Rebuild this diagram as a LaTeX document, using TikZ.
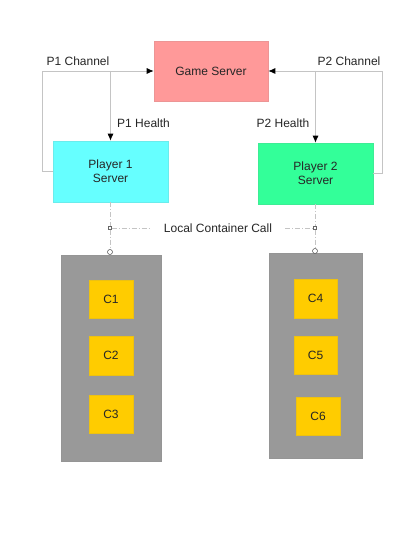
\documentclass[tikz,border=0pt]{standalone}
\usepackage{fontspec}
\setmainfont{Liberation Sans}
\usetikzlibrary{arrows.meta}
\definecolor{gameRed}{HTML}{FF9999}
\definecolor{pcyan}{HTML}{66FFFF}
\definecolor{pgreen}{HTML}{33FF99}
\definecolor{cgray}{HTML}{999999}
\definecolor{cyellow}{HTML}{FFCC00}
\definecolor{linegray}{HTML}{C4C4C4}
\begin{document}
\begin{tikzpicture}[x=1pt,y=-1pt,
  every node/.style={font=\fontsize{12}{14}\selectfont, text=black!85},
  box/.style={rectangle, draw=#1!85!gray, fill=#1, line width=0.6pt, align=center, inner sep=0pt},
  conn/.style={draw=linegray, line width=0.8pt, -{Latex[black,length=7pt,width=6pt]}},
  plain/.style={draw=linegray, line width=0.8pt},
  dashdot/.style={draw=linegray, line width=0.7pt, dash pattern=on 5pt off 2pt on 1pt off 2pt},
  lbl/.style={inner sep=1pt},
  ring/.style={circle, draw=black!70, fill=white, line width=0.5pt, inner sep=0pt, minimum size=5pt},
  tinysq/.style={rectangle, draw=black!60, fill=white, line width=0.4pt, inner sep=0pt, minimum size=3pt}]
\useasboundingbox (0,0) rectangle (415,537);
\fill[white] (0,0) rectangle (415,537);

% main boxes
\node[box=gameRed, minimum width=114pt, minimum height=60pt] (gs) at (211,71) {Game Server};
\node[box=pcyan, minimum width=115pt, minimum height=61pt] (p1) at (110.5,171.5) {Player 1\\Server};
\node[box=pgreen, minimum width=115pt, minimum height=61pt] (p2) at (315.5,173.5) {Player 2\\Server};

% containers
\node[box=cgray, minimum width=100pt, minimum height=206pt] (k1) at (111,358) {};
\node[box=cgray, minimum width=93pt, minimum height=205pt] (k2) at (315.5,355.5) {};

\node[box=cyellow, minimum width=44pt, minimum height=38pt] (c1) at (111,299) {C1};
\node[box=cyellow, minimum width=44pt, minimum height=39pt] (c2) at (111,355.5) {C2};
\node[box=cyellow, minimum width=44pt, minimum height=38pt] (c3) at (111,414) {C3};
\node[box=cyellow, minimum width=43pt, minimum height=39pt] (c4) at (315.5,298.5) {C4};
\node[box=cyellow, minimum width=43pt, minimum height=38pt] (c5) at (315.5,355) {C5};
\node[box=cyellow, minimum width=44pt, minimum height=38pt] (c6) at (318,416) {C6};

% channels
\draw[conn] (p1.west) -- ++(-10,0) |- (gs.west);
\draw[conn] (p2.east) -- ++(9,0) |- (gs.east);
\coordinate (j1) at (p1.north |- gs.west);
\coordinate (j2) at (p2.north |- gs.east);
\draw[conn] (j1) -- (p1.north);
\draw[conn] (j2) -- (p2.north);

\node[lbl] (l1) at (78,61) {P1 Channel};
\node[lbl, anchor=west] (l2) at (116,123) {P1 Health};
\node[lbl] (l3) at (349,61) {P2 Channel};
\node[lbl] (l4) at (283,123) {P2 Health};

% local container call
\node[ring] (o1) at (110,252) {};
\node[ring] (o2) at (315,251) {};
\node[tinysq] (s1) at (110,228) {};
\node[tinysq] (s2) at (315,228) {};
\node[lbl] (lcc) at (218,228) {Local Container Call};
\draw[dashdot] (p1.south -| o1) -- (s1) -- (o1);
\draw[dashdot] (p2.south -| o2) -- (s2) -- (o2);
\draw[dashdot] (s1) -- ([xshift=-12pt]lcc.west);
\draw[dashdot] ([xshift=12pt]lcc.east) -- (s2);
\end{tikzpicture}
\end{document}
